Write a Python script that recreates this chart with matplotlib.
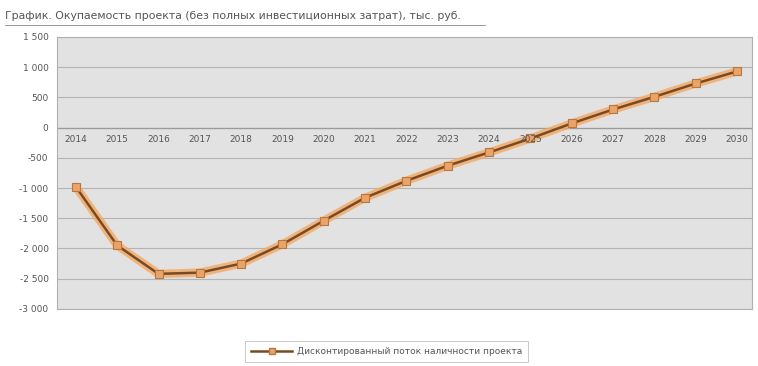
import numpy as np
import matplotlib.pyplot as plt

# окупаемость проекта по годам, тыс. руб.
years = [str(y) for y in range(2014, 2031)]
values = [-980, -1950, -2420, -2400, -2250, -1930, -1540, -1160, -880,
          -630, -410, -180, 70, 300, 510, 730, 930]
yticks = [1500, 1000, 500, 0, -500, -1000, -1500, -2000, -2500, -3000]

title = "График. Окупаемость проекта (без полных инвестиционных затрат), тыс. руб."
series_name = "Дисконтированный поток наличности проекта"

fig = plt.figure(figsize=(7.58, 3.66), dpi=100)
ax = fig.add_axes([0.075, 0.156, 0.917, 0.743])
ax.set_facecolor('#e2e2e2')

x = np.arange(len(years))
ax.set_xlim(-0.46, 16.36)
ax.set_ylim(-3000, 1500)

for yv in yticks:
    ax.axhline(yv, color='#b4b4b4', lw=0.8, zorder=1)
ax.axhline(0, color='#9a9a9a', lw=0.9, zorder=2)

# оранжевая подложка и тёмная линия поверх
ax.plot(x, values, color='#f3a964', lw=6, alpha=0.8, solid_capstyle='round', zorder=3)
ax.plot(x, values, color='#7a4a22', lw=1.8, marker='s', ms=5.5,
        mfc='#e9a46a', mec='#b9773d', mew=0.8, zorder=4)

ax.set_yticks(yticks)
ax.set_yticklabels([f"{v:,}".replace(",", " ") for v in yticks])
ax.tick_params(axis='y', length=0, labelsize=6.5, labelcolor='#555555', pad=6)
ax.set_xticks([])
for i, yr in enumerate(years):
    ax.text(i, -120, yr, ha='center', va='top', fontsize=6.5, color='#555555', zorder=5)

for s in ax.spines.values():
    s.set_color('#b0b0b0')
    s.set_linewidth(0.8)

fig.text(0.006, 0.955, title, fontsize=7.8, color='#555555', ha='left', va='center')
fig.add_artist(plt.Line2D([0.006, 0.64], [0.932, 0.932], color='#999999', lw=0.7))

leg = fig.legend([plt.Line2D([], [], color='#7a4a22', lw=1.8, marker='s', ms=4,
                             mfc='#e9a46a', mec='#b9773d')],
                 [series_name], loc='center', bbox_to_anchor=(0.51, 0.04),
                 fontsize=6.5, frameon=True, fancybox=False, edgecolor='#bbbbbb',
                 handlelength=4.5, borderpad=0.7, borderaxespad=0,
                 handletextpad=0.5)
leg.get_frame().set_linewidth(0.7)
for t in leg.get_texts():
    t.set_color('#555555')

fig.savefig('out.png', dpi=100)
